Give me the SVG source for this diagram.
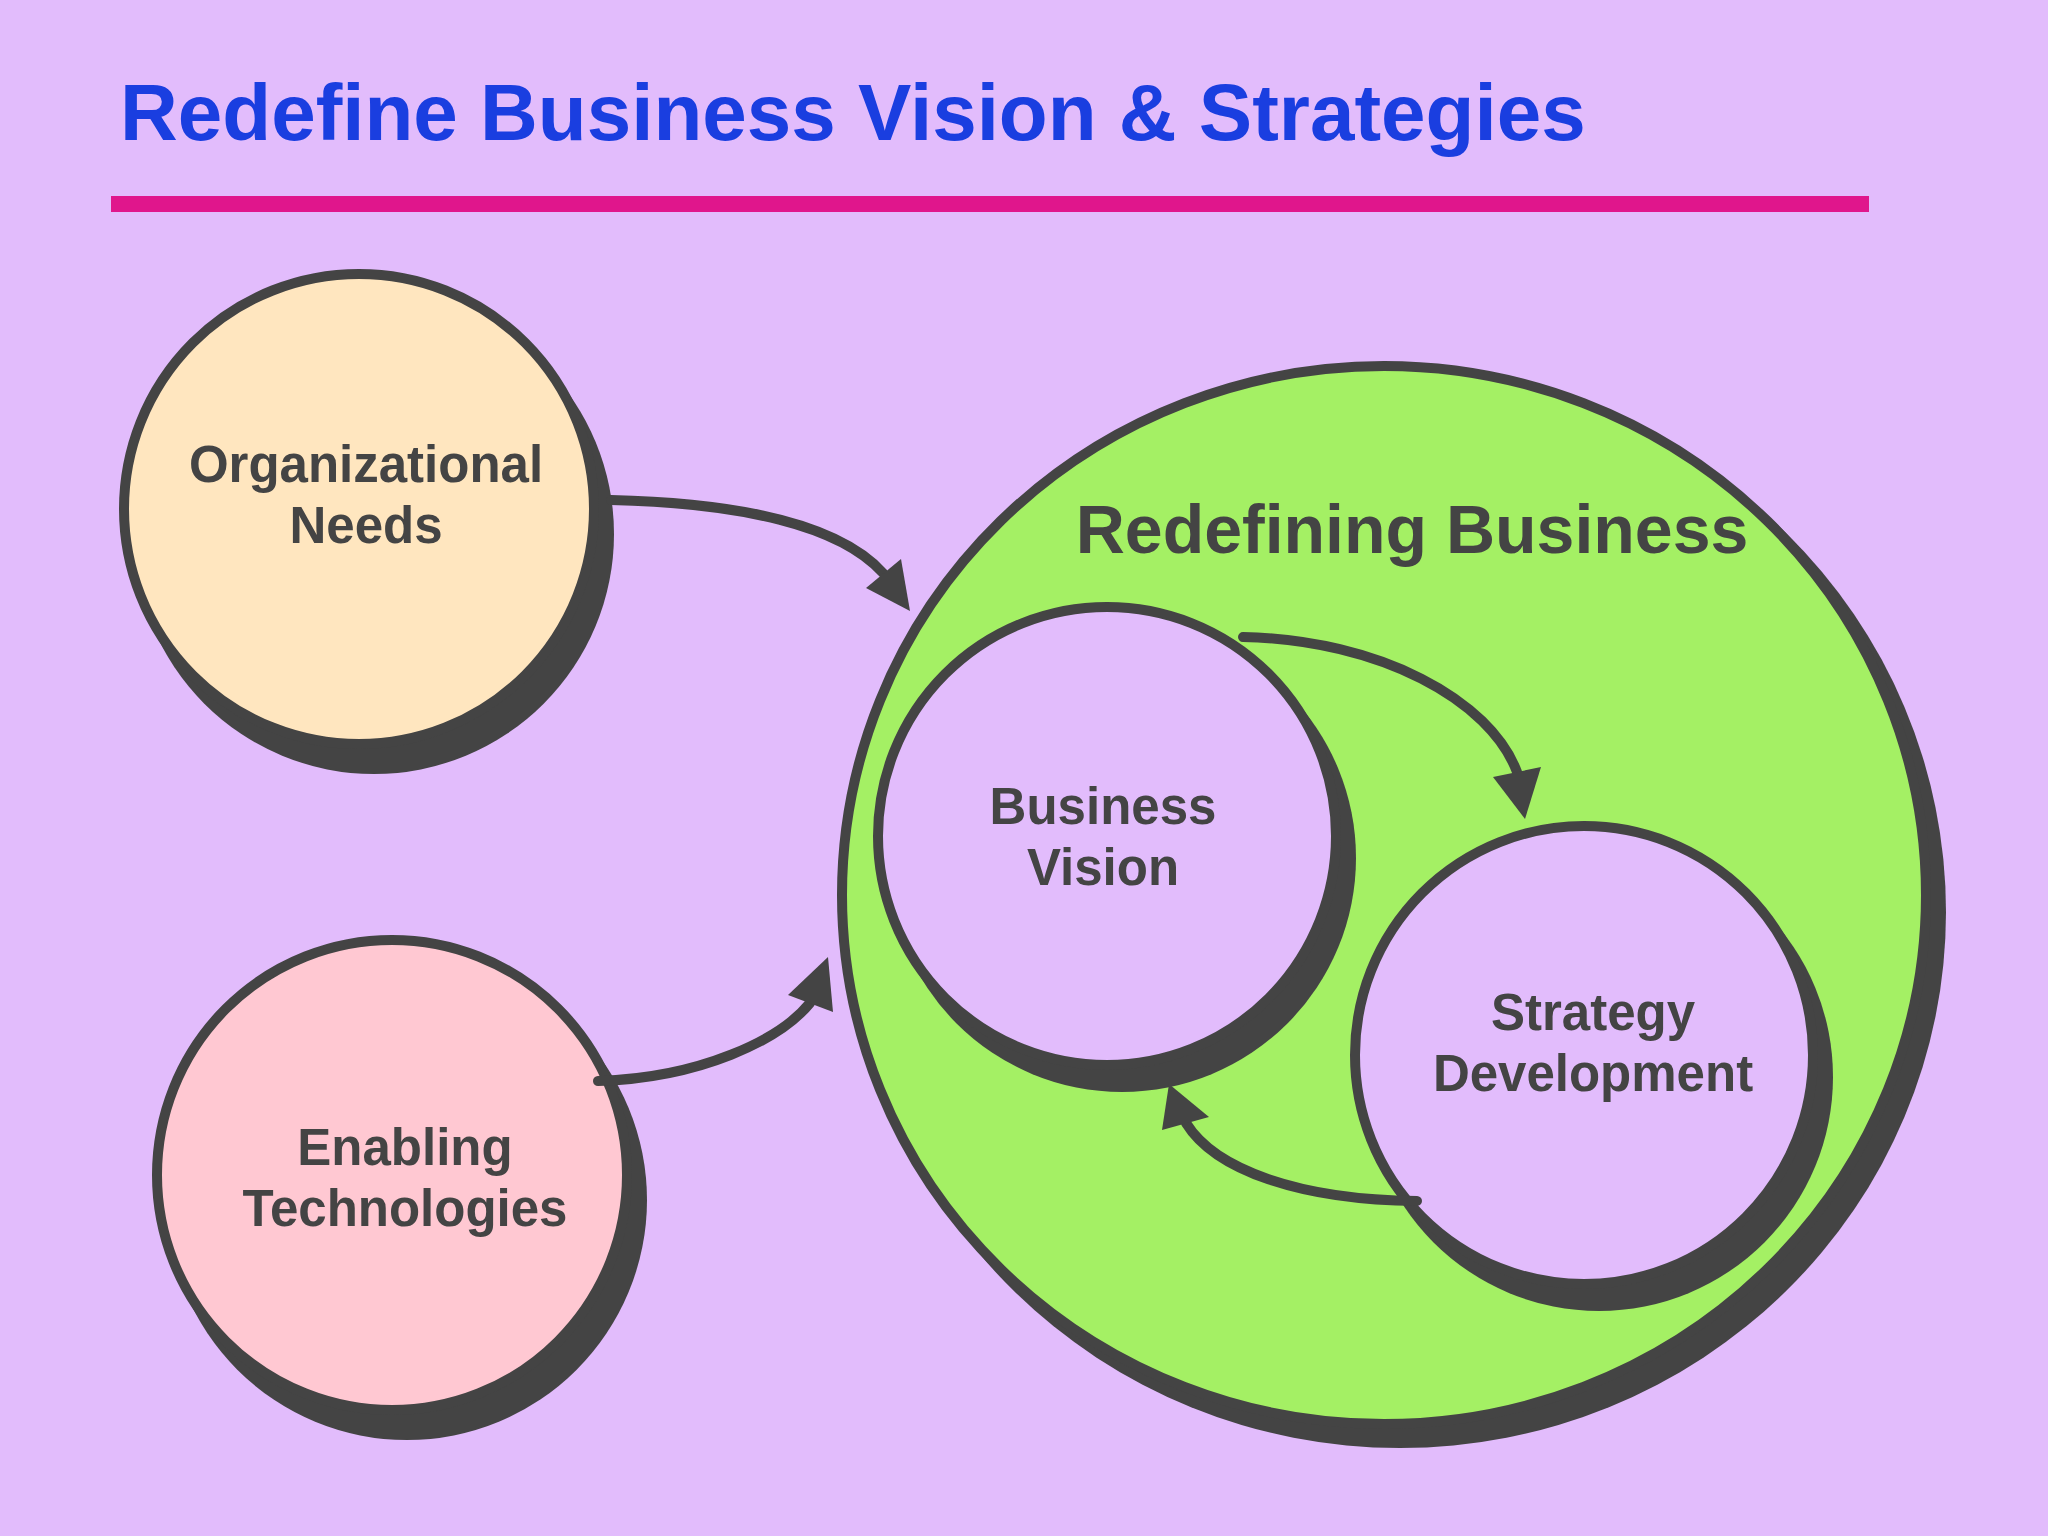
<svg xmlns="http://www.w3.org/2000/svg" width="2048" height="1536" viewBox="0 0 2048 1536">
<defs>
<style>
.c{stroke:#444;stroke-width:10}
.sh{fill:#444}
.t{font-family:"Liberation Sans",Arial,sans-serif;font-weight:bold;fill:#444;text-anchor:middle;dominant-baseline:central}
.k{fill:none;stroke:#444;stroke-width:10;stroke-linecap:round}
.h{fill:#444}
</style>
</defs>
<rect width="2048" height="1536" fill="#e2bcfc"/>
<text x="120" y="140" font-family="Liberation Sans,Arial,sans-serif" font-weight="bold" font-size="80" fill="#1a3ee0">Redefine Business Vision &amp; Strategies</text>
<rect x="111" y="196" width="1758" height="16" fill="#e0168c"/>
<g id="org"><circle class="sh" cx="374" cy="534" r="240"/><circle class="c" cx="359" cy="509" r="235" fill="#ffe6bf"/>
<text class="t" x="366" y="464" font-size="51">Organizational</text><text class="t" x="366" y="525" font-size="51">Needs</text></g>
<g id="enab"><circle class="sh" cx="407" cy="1200" r="240"/><circle class="c" cx="392" cy="1175" r="235" fill="#ffc8d2"/>
<text class="t" x="405" y="1147" font-size="51">Enabling</text><text class="t" x="405" y="1208" font-size="51">Technologies</text></g>
<g id="big"><ellipse class="sh" cx="1400" cy="912" rx="546" ry="536"/><ellipse class="c" cx="1384" cy="895" rx="542" ry="529" fill="#a4f064"/>
<text class="t" x="1412" y="529" font-size="68">Redefining Business</text></g>
<g id="bv"><circle class="sh" cx="1122" cy="858" r="234"/><circle class="c" cx="1107" cy="836" r="229" fill="#e2bcfc"/>
<text class="t" x="1103" y="806" font-size="51">Business</text><text class="t" x="1103" y="867" font-size="51">Vision</text></g>
<g id="sd"><circle class="sh" cx="1599" cy="1077" r="234"/><circle class="c" cx="1584" cy="1055" r="229" fill="#e2bcfc"/>
<text class="t" x="1593" y="1012" font-size="51">Strategy</text><text class="t" x="1593" y="1073" font-size="51">Development</text></g>
<g id="connectors">
<path class="k" d="M611,500 C740,503 840,525 883,573"/>
<polygon class="h" points="910,611 866,588 901,559"/>
<path class="k" d="M598,1081 C700,1078 780,1040 810,1003"/>
<polygon class="h" points="828,957 788,995 833,1012"/>
<path class="k" d="M1243,637 C1380,640 1490,700 1517,772"/>
<polygon class="h" points="1525,819 1493,777 1541,767"/>
<path class="k" d="M1417,1201 C1300,1200 1215,1170 1186,1123"/>
<polygon class="h" points="1169,1084 1162,1130 1209,1117"/>
</g>
</svg>
